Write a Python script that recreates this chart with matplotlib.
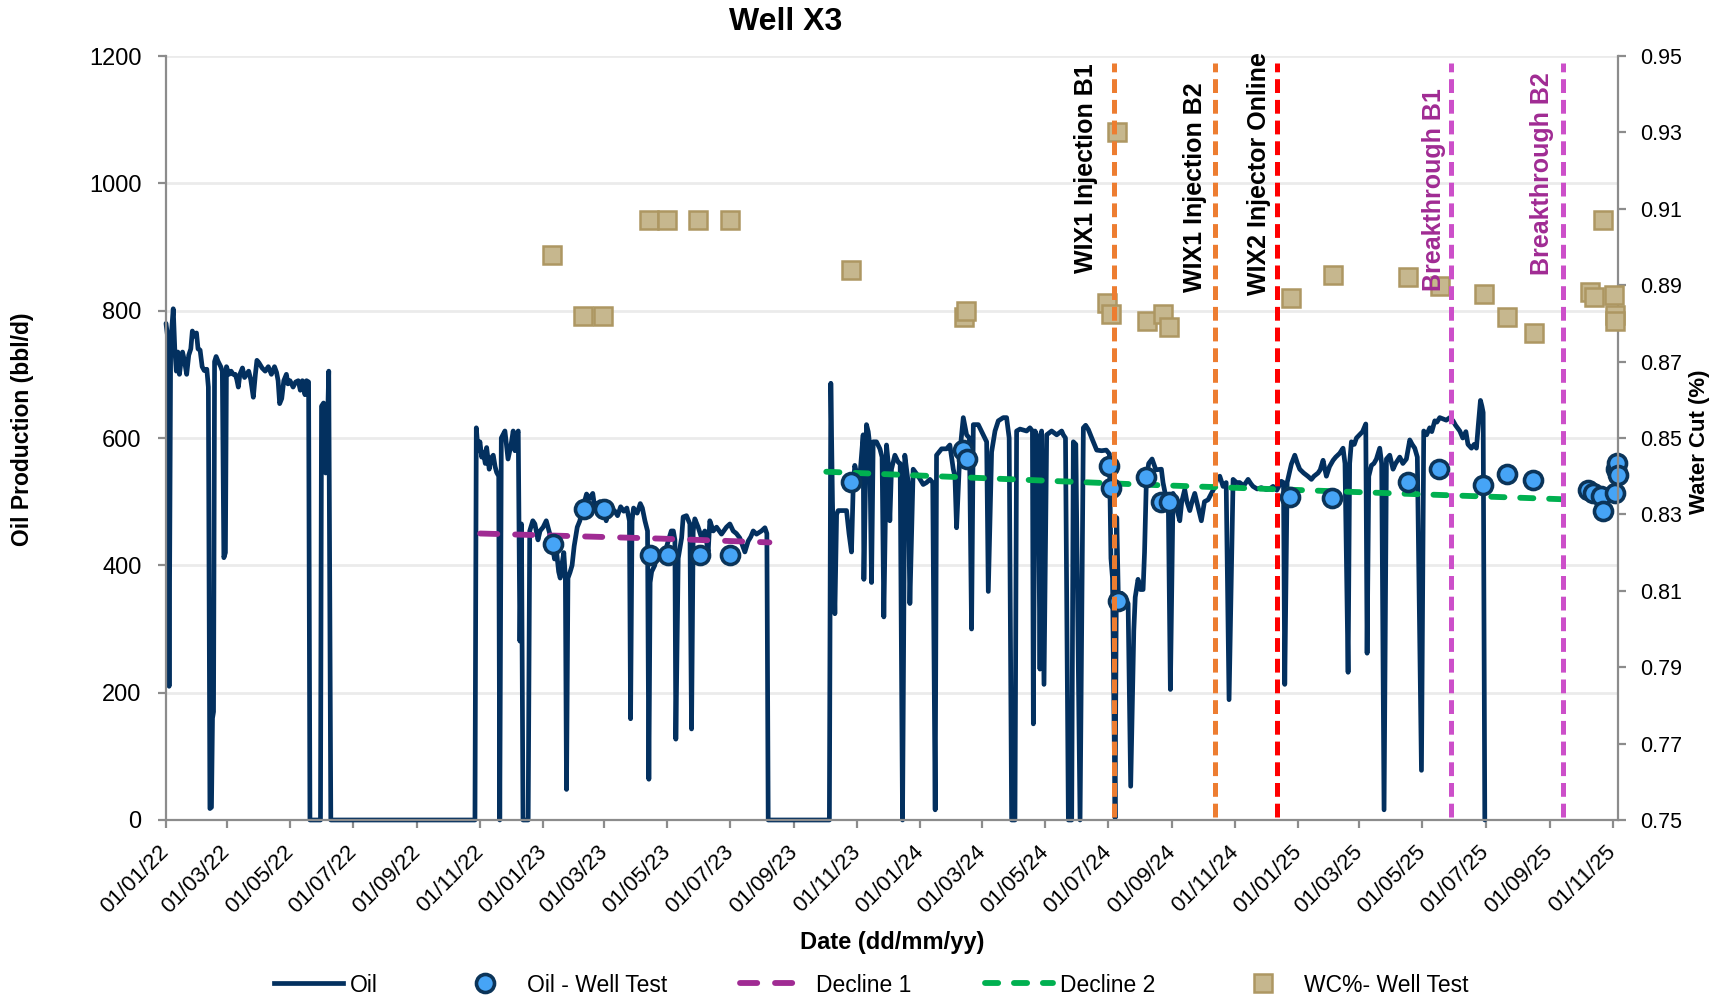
import datetime as dt
import numpy as np
import matplotlib
matplotlib.use("Agg")
import matplotlib.pyplot as plt
import matplotlib.dates as mdates
from matplotlib.lines import Line2D
from matplotlib.transforms import blended_transform_factory

plt.rcParams['font.family'] = ['Liberation Sans', 'DejaVu Sans']

# ---------------- data ----------------
START = dt.datetime(2022, 1, 1)   # day 0 of the day counts below

# Daily oil rate: days since 01/01/22 and bbl/d
oil_day = [0, 1.5, 3, 4.5, 5.5, 7, 8.5, 10, 11.5, 13, 14.5, 16, 18, 20, 22, 24, 25.5, 27.5, 29.5, 31,
           33, 35, 37, 39.5, 41, 42.5, 44, 45, 46, 47, 48.5, 50.5, 53, 54.5, 56, 57.5, 58.5, 61, 63, 65,
           67, 68.5, 70, 71.5, 74, 76, 78, 80, 82, 84.5, 86.5, 88, 90, 93, 96, 99, 102, 105, 107, 108.5,
           110, 112, 114, 116.5, 118, 120, 123, 125.5, 128, 130, 132, 134.5, 136, 138, 139.3, 149.5,
           150.5, 152.5, 154.5, 156, 157.5, 159.5, 299,
           300.3, 302, 303.8, 305.5, 307, 309, 310.3, 312.8, 314.5, 316.7, 318.5, 320, 322, 323, 324.5,
           328, 331, 334, 336, 337.7, 339, 340.9, 342.5, 344, 345.5, 350.5, 352, 355, 357, 360, 362, 365,
           368, 370, 373, 376, 378, 380, 381.5, 383, 385, 386.5, 387.6, 389, 391, 393, 395, 398, 400.5,
           403, 405, 407, 410, 413, 415, 418, 420, 422, 424, 426, 428, 431, 434, 437, 440, 443, 446,
           448.5, 449.6, 451, 452.5, 456, 459, 461, 463.5, 466, 467.3, 468.5, 470, 473, 475, 478, 483,
           486, 489, 491, 492.5, 493.4, 495.7, 499, 500.5, 503.7, 507, 508.6, 510.2, 511.8, 515, 518.3,
           521.5, 524.7, 526.3, 529.6, 532.8, 537.6, 542.4, 545.7, 548.9, 552, 555.3, 560.2, 563.4, 566,
           568.3, 571.5, 576.3, 579.6, 581.5, 582.8, 642,
           643.4, 645, 647.3, 649, 650.5, 655, 658.6, 661, 663.4, 665, 666.6, 669, 671.5, 674.7, 675.4,
           677.9, 679.6, 681, 682.8, 684.4, 687.6, 690.9, 693, 694.7, 697.3, 699, 700.5, 702.1, 705.4,
           708.6, 710.5, 712.8, 715, 718.3, 719.9, 723.1, 728, 732.8, 736, 739.3, 742, 744.4, 745.7,
           750.6, 755.4, 758.6, 761.9, 763.5, 765.1, 768.3, 771.6, 774.8, 777.5, 779.6, 781.3, 786.1,
           790.9, 794.2, 795.8, 799, 802.3, 805.5, 810.3, 813.5, 816, 818.4, 821.6, 823.2, 826.5, 832.9,
           836.1, 838.5, 839.4, 841, 844, 845.8, 847.4, 849.7, 852.3, 857.1, 862, 866.8, 868.4, 870.5,
           873.3, 876.5, 878.1, 880.5, 884.6, 887.8, 890, 892.7, 895.9, 900.7, 905.5, 910, 913, 914.5,
           916, 918.5, 920.1, 921.7, 925, 929, 931.1, 933.6, 936.6, 938, 940.7, 943, 945.6, 947, 948.8,
           951, 954.3, 958, 963.3, 964.9, 968.2, 970, 972, 974.6, 978, 981.1, 983, 985.9, 988, 990.8,
           993, 995.6, 999, 1002, 1005, 1008.5, 1011.7, 1014, 1017, 1019.8, 1023, 1026, 1028.8, 1032.7,
           1036, 1039.1, 1043, 1047.2, 1050, 1052, 1056, 1060, 1064.9, 1068, 1071.4, 1075, 1079.4,
           1081.5, 1082.7, 1085, 1089.1, 1092.4, 1095, 1097.2, 1101, 1105, 1108.5, 1111, 1114.9, 1117,
           1119.8, 1121, 1123, 1126, 1129.5, 1132, 1135.9, 1139.1, 1141, 1144, 1145.5, 1147.2, 1150,
           1152.1, 1155, 1158, 1161.1, 1162.4, 1164, 1166.6, 1169, 1171.4, 1174.6, 1176.5, 1178.8,
           1181.1, 1184.3, 1187.5, 1190, 1192, 1194, 1197, 1200.4, 1203.7, 1206, 1208.5, 1211, 1215,
           1217.2, 1220, 1223, 1225, 1227.9, 1230, 1232.7, 1236, 1239, 1242.4, 1245.6, 1248, 1252.1,
           1255, 1258, 1260, 1263.4, 1266, 1268.2, 1270, 1272.1, 1273.5, 1274.7, 1276.3]
oil_bbl = [780, 760, 210, 740, 770, 803, 740, 705, 735, 700, 720, 735, 720, 700, 730, 740, 768, 760, 765, 740,
           738, 712, 706, 708, 680, 18, 20, 160, 170, 720, 728, 720, 712, 705, 412, 420, 712, 700, 705, 700,
           700, 692, 680, 700, 710, 695, 700, 705, 692, 664, 700, 722, 718, 710, 705, 712, 700, 712, 703, 690,
           654, 662, 690, 700, 685, 690, 680, 688, 690, 675, 690, 668, 690, 688, 0, 0,
           650, 655, 545, 600, 705, 0, 0,
           616, 580, 594, 570, 578, 560, 585, 551, 568, 573, 555, 546, 540, 0, 600,
           611, 567, 590, 611, 580, 605, 611, 281, 465, 0, 0, 454, 470, 465, 440, 454, 460,
           470, 458, 440, 410, 421, 390, 380, 400, 420, 380, 48, 380, 389, 400, 430, 460, 470,
           490, 500, 512, 505, 513, 490, 498, 500, 480, 490, 470, 495, 483, 486, 478, 492, 485, 490,
           470, 159, 470, 490, 482, 497, 490, 470, 454, 64, 373, 390, 400, 421, 416, 421,
           438, 454, 454, 440, 127, 411, 443, 476, 478, 465, 143, 454, 473, 460, 443,
           454, 421, 470, 454, 460, 449, 460, 465, 454, 450, 443, 421, 438, 445,
           454, 449, 454, 459, 450, 0, 0,
           686, 500, 324, 480, 486, 486, 486, 450, 421, 520, 557, 540, 540, 605, 378,
           621, 610, 590, 373, 594, 594, 583, 570, 319, 589, 560, 470, 551, 573,
           562, 560, 0, 573, 530, 340, 551, 540, 527, 530, 535, 530, 16, 573,
           583, 583, 589, 551, 540, 459, 578, 632, 605, 600, 300, 621, 621,
           605, 594, 359, 578, 611, 627, 632, 632, 600, 0, 0, 611, 614, 611,
           616, 611, 151, 611, 600, 237, 611, 213, 605, 611, 605, 611, 605, 600,
           0, 0, 594, 590, 0, 616, 620, 613, 600, 581, 580, 581, 575, 411,
           380, 3, 475, 346, 356, 346, 340, 53, 297, 350, 378, 362, 362, 420, 535,
           560, 567, 550, 551, 530, 503, 500, 205, 513, 490, 470, 500, 519, 500, 486,
           500, 513, 490, 470, 500, 503, 513, 520, 535, 540, 524, 530, 189, 535,
           530, 530, 525, 535, 528, 524, 520, 522, 519, 520, 524, 518, 532,
           530, 213, 530, 559, 573, 560, 551, 545, 540, 535, 540, 545, 550,
           565, 555, 540, 555, 565, 570, 576, 584, 560, 232, 560, 594, 590,
           600, 605, 610, 622, 262, 540, 557, 560, 567, 584, 560, 16,
           567, 573, 551, 560, 565, 570, 560, 567, 597, 590, 584, 570, 78,
           611, 605, 616, 610, 627, 625, 632, 630, 628, 632, 627, 620, 611,
           600, 610, 590, 584, 590, 584, 620, 659, 650, 640, 0]

# Well tests: oil rate
test_day = [374.7, 404.4, 424.1, 468.3, 485.4, 516.7, 545.7, 662.8, 771.3, 775.5, 912.5, 914.5, 921,
            948.8, 963.3, 970.7, 1088, 1128, 1202.2, 1232.3, 1274.2, 1297.4, 1323.2, 1376, 1381,
            1389, 1390.6, 1402, 1403.5, 1404, 1405]
test_oil = [434, 488, 488, 416, 416, 416, 416, 531, 581, 567, 556, 521, 344,
            538, 500, 500, 508, 506, 531, 552, 526, 544, 534, 518, 513,
            509, 485, 513, 552, 560, 542]

# Well tests: water cut (fraction)
wc_day = [374, 403.8, 422.8, 467.3, 485.3, 515, 545.7, 663, 772.3, 774.4, 910.9, 914.1, 920.5, 949,
          964.9, 970.2, 1088.8, 1129, 1202, 1232.8, 1275.2, 1297.4, 1323.8, 1377.7, 1381.6, 1390.6,
          1401.5, 1402.5, 1402.5]
wc_frac = [0.898, 0.882, 0.882, 0.907, 0.907, 0.907, 0.907, 0.894, 0.8817, 0.8833, 0.8853, 0.8824, 0.930,
           0.8807, 0.8824, 0.879, 0.8866, 0.8928, 0.8922, 0.8898, 0.8876, 0.8816, 0.8776, 0.8881, 0.887,
           0.907, 0.8874, 0.8822, 0.8805]

# Decline lines
decline1_day = [304, 478, 584]
decline1_bbl = [450, 442, 436]
decline2_day = [639, 942, 1366]
decline2_bbl = [547, 527, 503]

# Events (vertical markers)
event_names = ["WIX1 Injection B1", "WIX1 Injection B2", "WIX2 Injector Online",
               "Breakthrough B1", "Breakthrough B2"]
event_dates = ["2024-07-06", "2024-10-12", "2024-12-11", "2025-05-29", "2025-09-14"]

# ---------------- styles ----------------
OIL_C = '#03305F'
TEST_FACE = '#46A4F6'
TEST_EDGE = '#0B3459'
WC_FACE = '#C6B78E'
WC_EDGE = '#AD9762'
D1_C = '#A02B93'
D2_C = '#00B050'
AX_C = '#8C8C8C'
GRID_C = '#EBEBEB'
D1_LS = (0, (2.95, 3.05))
D2_LS = (0, (2.26, 2.7))
D_LW = 4.2
event_line_colors = ['#ED7D31', '#ED7D31', '#FF0000', '#CC4FC9', '#CC4FC9']
event_text_colors = ['black', 'black', 'black', '#A02B93', '#A02B93']
event_text_dx_px = [-27.7, -19.7, -18, -17.4, -21.4]      # label centre offset from line
event_text_top = [0.991, 0.965, 1.005, 0.958, 0.979]      # axes fraction

base = mdates.date2num(START)
to_x = lambda d: base + np.asarray(d, dtype=float)

W, H = 1716, 999
fig = plt.figure(figsize=(W / 100, H / 100), dpi=100)
ax = fig.add_axes([166 / W, 1 - 820 / H, (1618.3 - 166) / W, 764 / H])
ax2 = ax.twinx()

# oil line
ax.plot(to_x(oil_day), oil_bbl, color=OIL_C, lw=3.4, solid_joinstyle='round',
        solid_capstyle='round', zorder=2, clip_on=False)
# declines
ax.plot(to_x(decline1_day), decline1_bbl, color=D1_C, lw=D_LW, ls=D1_LS,
        dash_capstyle='round', zorder=3)
ax.plot(to_x(decline2_day), decline2_bbl, color=D2_C, lw=D_LW, ls=D2_LS,
        dash_capstyle='round', zorder=3)
# well tests
ax.plot(to_x(test_day), test_oil, ls='none', marker='o', ms=13, mfc=TEST_FACE,
        mec=TEST_EDGE, mew=2.6, zorder=4, clip_on=False)
# water cut
ax2.plot(to_x(wc_day), wc_frac, ls='none', marker='s', ms=12.5, mfc=WC_FACE,
         mec=WC_EDGE, mew=1.8, zorder=4, clip_on=False)

# events
trans = blended_transform_factory(ax2.transData, ax2.transAxes)
for name, d, lc, tc, dx, top in zip(event_names, event_dates, event_line_colors,
                                     event_text_colors, event_text_dx_px, event_text_top):
    xd = mdates.date2num(dt.datetime.strptime(d, "%Y-%m-%d"))
    ax2.plot([xd, xd], [0.004, 0.991], transform=trans, color=lc, lw=3.6,
             ls=(0, (2.76, 1.38)), dash_capstyle='butt', zorder=6, clip_on=False)
    ax2.annotate(name, xy=(xd, top), xycoords=trans, xytext=(dx * 0.72, 0),
                 textcoords='offset points', rotation=90, ha='center', va='top',
                 fontsize=18, fontweight='bold', color=tc, zorder=7,
                 annotation_clip=False)

# axes limits & ticks
ax.set_xlim(base, base + 1405.5)
ax.set_ylim(0, 1200)
ax.set_yticks(np.arange(0, 1201, 200))
ax2.set_ylim(0.75, 0.95)
ax2.set_yticks(np.round(np.arange(0.75, 0.951, 0.02), 2))
ax2.yaxis.set_major_formatter(matplotlib.ticker.FormatStrFormatter('%.2f'))

ax.xaxis.set_major_locator(mdates.MonthLocator(bymonth=[1, 3, 5, 7, 9, 11]))
ax.xaxis.set_major_formatter(mdates.DateFormatter('%d/%m/%y'))

ax.grid(axis='y', color=GRID_C, lw=2, zorder=0)
ax.set_axisbelow(True)

for a in (ax, ax2):
    for s in a.spines.values():
        s.set_visible(False)
ax.spines['left'].set_visible(True)
ax.spines['bottom'].set_visible(True)
ax2.spines['right'].set_visible(True)
for s in (ax.spines['left'], ax.spines['bottom'], ax2.spines['right']):
    s.set_color(AX_C)
    s.set_linewidth(1.6)

ax.tick_params(axis='x', direction='out', length=5.5, width=1.6, color=AX_C,
               labelsize=16, pad=15)
ax.tick_params(axis='y', direction='out', length=5.5, width=1.6, color=AX_C,
               labelsize=17, pad=12)
ax2.tick_params(axis='y', direction='out', length=5.5, width=1.6, color=AX_C,
                labelsize=15.5, pad=10)
plt.setp(ax.get_xticklabels(), rotation=45, ha='right', va='center',
         rotation_mode='anchor')

# texts
fig.text(786 / W, 1 - 22 / H, "Well X3", ha='center', va='center', fontsize=23,
         fontweight='bold')
fig.text(23 / W, 1 - 429.5 / H, "Oil Production (bbl/d)", rotation=90, ha='center',
         va='center', fontsize=16.5, fontweight='bold')
fig.text(1700 / W, 1 - 442 / H, "Water Cut (%)", rotation=90, ha='center',
         va='center', fontsize=16, fontweight='bold')
fig.text(892 / W, 1 - 942 / H, "Date (dd/mm/yy)", ha='center', va='center',
         fontsize=17, fontweight='bold')

# legend
handles = [
    Line2D([], [], color=OIL_C, lw=3.4),
    Line2D([], [], ls='none', marker='o', ms=13, mfc=TEST_FACE, mec=TEST_EDGE, mew=2.6),
    Line2D([], [], color=D1_C, lw=D_LW, ls=D1_LS, dash_capstyle='round'),
    Line2D([], [], color=D2_C, lw=D_LW, ls=D2_LS, dash_capstyle='round'),
    Line2D([], [], ls='none', marker='s', ms=12.5, mfc=WC_FACE, mec=WC_EDGE, mew=1.8),
]
labels = ["Oil", "Oil - Well Test", "Decline 1", "Decline 2", "WC%- Well Test"]
fig.legend(handles, labels, loc='center', bbox_to_anchor=(871.5 / W, 1 - 985 / H),
           ncol=5, frameon=False, fontsize=16.5, handlelength=3.0, handletextpad=0.3,
           columnspacing=3.2, borderpad=0, borderaxespad=0)

fig.savefig("out.png", dpi=100)
